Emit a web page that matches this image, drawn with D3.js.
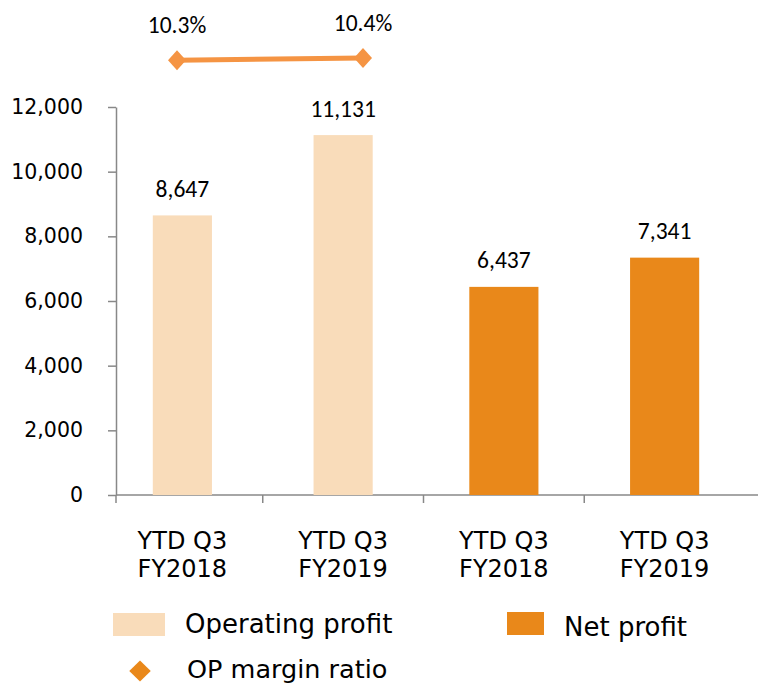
<!DOCTYPE html>
<html>
<head>
<meta charset="utf-8">
<script src="https://cdn.jsdelivr.net/npm/d3@7"></script>
<style>
  body { margin: 0; background: #fff; }
  svg { display: block; }
</style>
</head>
<body>
<script>
// data
const periods = ["YTD Q3|FY2018", "YTD Q3|FY2019"];
const seriesNames = ["Operating profit", "Net profit"];
const operatingProfit = [8647, 11131];
const netProfit = [6437, 7341];
const opMargin = [10.3, 10.4];
const yTicks = [0, 2000, 4000, 6000, 8000, 10000, 12000];

const width = 758, height = 684;
const colors = { "Operating profit": "#F9DCBA", "Net profit": "#E9881A" };
const lineColor = "#F59443";

const rows = seriesNames.flatMap((s, si) => periods.map((p, pi) => ({
  key: s + "/" + p,
  series: s,
  period: p,
  value: si === 0 ? operatingProfit[pi] : netProfit[pi]
})));

const svg = d3.select("body").append("svg")
  .attr("width", width)
  .attr("height", height);

const axisX = 116;

const x = d3.scaleBand()
  .domain(rows.map(d => d.key))
  .range([102, 745]);

const y = d3.scaleLinear()
  .domain([0, 12000])
  .range([495, 107]);

// margin ratio scale (hidden secondary axis)
const yR = d3.scaleLinear()
  .domain([10, 10.5])
  .range([67.2, 55.7]);

const xLine = d3.scalePoint()
  .domain(periods)
  .range([177, 363]);

const barFactor = { "Operating profit": 0.368, "Net profit": 0.43 };

// y axis
const yAxis = svg.append("g")
  .attr("transform", "translate(" + axisX + ",0)")
  .call(d3.axisLeft(y).tickValues(yTicks).tickSize(8).tickSizeOuter(0).tickPadding(25)
    .tickFormat(d3.format(",")));
yAxis.select(".domain").attr("stroke", "#888").attr("stroke-width", 1.5);
yAxis.selectAll(".tick line").attr("stroke", "#888").attr("stroke-width", 1.5);
yAxis.selectAll(".tick text")
  .attr("font-family", "DejaVu Sans, Verdana, sans-serif")
  .attr("font-size", 20.5)
  .attr("fill", "#000");
yAxis.append("line")
  .attr("x1", 0).attr("x2", 0)
  .attr("y1", y(0)).attr("y2", y(0) + 8)
  .attr("stroke", "#888").attr("stroke-width", 1.5);

// x axis line and category ticks
svg.append("line")
  .attr("x1", axisX).attr("x2", width)
  .attr("y1", y(0)).attr("y2", y(0))
  .attr("stroke", "#888").attr("stroke-width", 1.5);

svg.selectAll(".xtick")
  .data(rows.slice(1))
  .enter().append("line")
  .attr("class", "xtick")
  .attr("x1", d => x(d.key)).attr("x2", d => x(d.key))
  .attr("y1", y(0)).attr("y2", y(0) + 8)
  .attr("stroke", "#888").attr("stroke-width", 1.5);

// bars
const barW = d => x.step() * barFactor[d.series];
const cx = d => x(d.key) + x.bandwidth() / 2;

svg.selectAll(".bar")
  .data(rows)
  .enter().append("rect")
  .attr("class", "bar")
  .attr("x", d => cx(d) - barW(d) / 2)
  .attr("width", barW)
  .attr("y", d => y(d.value))
  .attr("height", d => y(0) - y(d.value))
  .attr("fill", d => colors[d.series]);

svg.selectAll(".val")
  .data(rows)
  .enter().append("text")
  .attr("class", "val")
  .attr("x", cx)
  .attr("y", d => y(d.value) - 18.5)
  .attr("text-anchor", "middle")
  .attr("font-family", "Carlito, Calibri, Lato, sans-serif")
  .attr("font-size", 23.5)
  .attr("fill", "#000")
  .text(d => d3.format(",")(d.value));

// category labels
const xl = svg.selectAll(".xl")
  .data(rows)
  .enter().append("text")
  .attr("class", "xl")
  .attr("text-anchor", "middle")
  .attr("font-family", "DejaVu Sans, Verdana, sans-serif")
  .attr("font-size", 24)
  .attr("fill", "#000");
xl.selectAll("tspan")
  .data(d => d.period.split("|").map(t => ({ t, d })))
  .enter().append("tspan")
  .attr("x", o => cx(o.d))
  .attr("y", (o, i) => 549 + i * 28)
  .text(o => o.t);

// OP margin line
const diamond = (w, h) => "M0," + (-h / 2) + "L" + (w / 2) + ",0L0," + (h / 2) + "L" + (-w / 2) + ",0Z";

svg.append("path")
  .datum(opMargin)
  .attr("fill", "none")
  .attr("stroke", lineColor)
  .attr("stroke-width", 5)
  .attr("d", d3.line().x((d, i) => xLine(periods[i])).y(d => yR(d)));

svg.selectAll(".dm")
  .data(opMargin)
  .enter().append("path")
  .attr("class", "dm")
  .attr("transform", (d, i) => "translate(" + xLine(periods[i]) + "," + yR(d) + ")")
  .attr("d", diamond(18, 20))
  .attr("fill", lineColor);

svg.selectAll(".mlab")
  .data(opMargin)
  .enter().append("text")
  .attr("class", "mlab")
  .attr("x", (d, i) => xLine(periods[i]))
  .attr("y", d => yR(d) - 27)
  .attr("text-anchor", "middle")
  .attr("font-family", "Carlito, Calibri, Lato, sans-serif")
  .attr("font-size", 23.5)
  .attr("fill", "#000")
  .text(d => d.toFixed(1) + "%");

// legend
const legendFont = "DejaVu Sans, Verdana, sans-serif";
const lg = svg.append("g");

lg.append("rect").attr("x", 113).attr("y", 613).attr("width", 52).attr("height", 23)
  .attr("fill", colors["Operating profit"]);
lg.append("text").attr("x", 185).attr("y", 632.5)
  .attr("font-family", legendFont).attr("font-size", 26).text(seriesNames[0]);

lg.append("rect").attr("x", 507).attr("y", 612).attr("width", 37).attr("height", 23)
  .attr("fill", colors["Net profit"]);
lg.append("text").attr("x", 564).attr("y", 635.5)
  .attr("font-family", legendFont).attr("font-size", 26).text(seriesNames[1]);

lg.append("path").attr("transform", "translate(140,671)")
  .attr("d", diamond(21.5, 21)).attr("fill", "#E9881A");
lg.append("text").attr("x", 187).attr("y", 677.5)
  .attr("font-family", legendFont).attr("font-size", 25.5).text("OP margin ratio");
</script>
</body>
</html>
